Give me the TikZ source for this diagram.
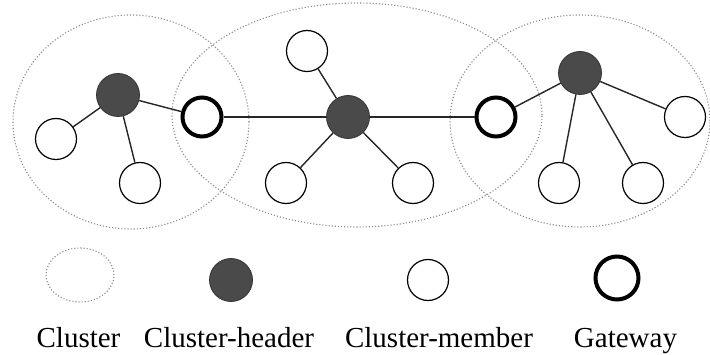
\documentclass[tikz,border=0pt]{standalone}
\usepackage{fontspec}
\setmainfont{Liberation Serif}
\definecolor{headfill}{HTML}{4A4A4A}
\definecolor{clustgray}{HTML}{8A8A8A}
\begin{document}
\begin{tikzpicture}[x=1pt,y=1pt,
  member/.style={circle,draw=black,line width=1.2pt,fill=white,minimum size=41pt,inner sep=0pt},
  head/.style={circle,draw=black!80,line width=0.8pt,fill=headfill,minimum size=43pt,inner sep=0pt},
  gate/.style={circle,draw=black,line width=4pt,fill=white,minimum size=39pt,inner sep=0pt},
  clus/.style={draw=clustgray,dotted,line width=1.1pt},
  link/.style={draw=black!85,line width=1.4pt},
  lgate/.style={circle,draw=black,line width=4pt,fill=white,minimum size=43pt,inner sep=0pt},
  lab/.style={anchor=base,font=\fontsize{29}{31}\selectfont,inner sep=0pt}]
\useasboundingbox (0,0) rectangle (710,354);
\fill[white] (0,0) rectangle (710,354);
% clusters
\draw[clus] (131,232) ellipse [x radius=118, y radius=107];
\draw[clus] (357,239) ellipse [x radius=185, y radius=112];
\draw[clus] (580,233) ellipse [x radius=130, y radius=106];
% nodes
\node[head] (h1) at (118,259) {};
\node[member] (m11) at (56,215) {};
\node[member] (m12) at (140,171) {};
\node[gate] (g1) at (202,237) {};
\node[head] (h2) at (348,237) {};
\node[member] (m21) at (307,303) {};
\node[member] (m22) at (286,171) {};
\node[member] (m23) at (413,171) {};
\node[gate] (g2) at (496,237) {};
\node[head] (h3) at (580,281) {};
\node[member] (m31) at (685,237) {};
\node[member] (m32) at (559,171) {};
\node[member] (m33) at (643,171) {};
% links
\draw[link] (h1) -- (m11);
\draw[link] (h1) -- (m12);
\draw[link] (h1) -- (g1);
\draw[link] (g1) -- (h2);
\draw[link] (h2) -- (m21);
\draw[link] (h2) -- (m22);
\draw[link] (h2) -- (m23);
\draw[link] (h2) -- (g2);
\draw[link] (g2) -- (h3);
\draw[link] (h3) -- (m31);
\draw[link] (h3) -- (m32);
\draw[link] (h3) -- (m33);
% legend
\coordinate (lc) at (80,79);
\draw[clus] (lc) ellipse [x radius=34, y radius=27];
\node[head] (lh) at (231,74) {};
\node[member] (lm) at (428,74) {};
\node[lgate] (lg) at (617,76) {};
\node[lab] (t1) at (78.5,7) {Cluster};
\node[lab] (t2) at (229,7) {Cluster-header};
\node[lab] (t3) at (439,7) {Cluster-member};
\node[lab] (t4) at (625.5,7) {Gateway};
\end{tikzpicture}
\end{document}
